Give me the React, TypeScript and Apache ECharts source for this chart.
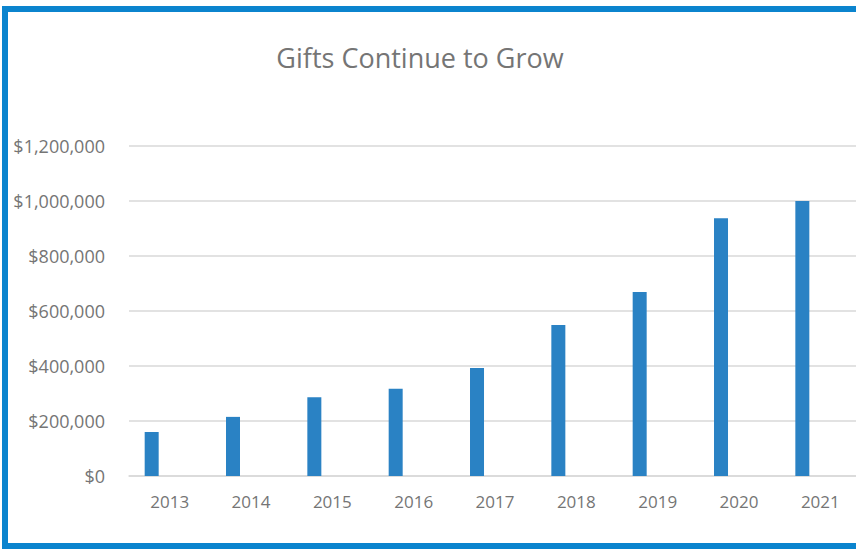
import React, { useEffect, useRef } from "react";
import * as echarts from "echarts";

const years = ["2013", "2014", "2015", "2016", "2017", "2018", "2019", "2020", "2021"];
const gifts = [160000, 215000, 286000, 317000, 393000, 549000, 669000, 937000, 1000000];
const emptySeries: (number | null)[] = [];
const titleText = "Gifts Continue to Grow";

export default function App() {
  const ref = useRef<HTMLDivElement>(null);
  useEffect(() => {
    if (!ref.current) return;
    const chart = echarts.init(ref.current, undefined, { renderer: "svg" });
    chart.setOption({
      animation: false,
      backgroundColor: "#ffffff",
      title: {
        text: titleText,
        left: 415,
        textAlign: "center",
        top: 39,
        textStyle: { fontFamily: "Open Sans", fontSize: 27, fontWeight: "normal", color: "#757575" },
      },
      graphic: [
        {
          type: "rect",
          shape: { x: 5, y: 9, width: 880, height: 537 },
          style: { fill: "none", stroke: "#0B84CE", lineWidth: 6 },
          z: 100,
        },
      ],
      grid: { left: 129, right: 0, top: 146, bottom: 80, containLabel: false },
      xAxis: {
        type: "category",
        data: years,
        axisLine: { show: true, lineStyle: { color: "#d9d9d9", width: 1.5 } },
        axisTick: { show: false },
        axisLabel: { color: "#757575", fontFamily: "Open Sans", fontSize: 17, margin: 17 },
      },
      yAxis: {
        type: "value",
        min: 0,
        max: 1200000,
        interval: 200000,
        axisLine: { show: false },
        axisTick: { show: false },
        splitLine: { lineStyle: { color: "#d9d9d9", width: 1.5 } },
        axisLabel: {
          color: "#757575",
          fontFamily: "Open Sans",
          fontSize: 18,
          margin: 24,
          formatter: (v: number) => "$" + v.toLocaleString("en-US"),
        },
      },
      series: [
        {
          type: "bar",
          name: "Gifts",
          data: gifts,
          barWidth: 14,
          barGap: "157%",
          itemStyle: { color: "#2A82C4" },
        },
        {
          type: "bar",
          name: "Other",
          data: emptySeries,
          barWidth: 14,
          itemStyle: { color: "#ED7D31" },
        },
      ],
    });
    return () => chart.dispose();
  }, []);
  return (
    <div
      ref={ref}
      style={{ position: "fixed", left: 0, top: 0, width: 861, height: 556, background: "#fff" }}
    />
  );
}
